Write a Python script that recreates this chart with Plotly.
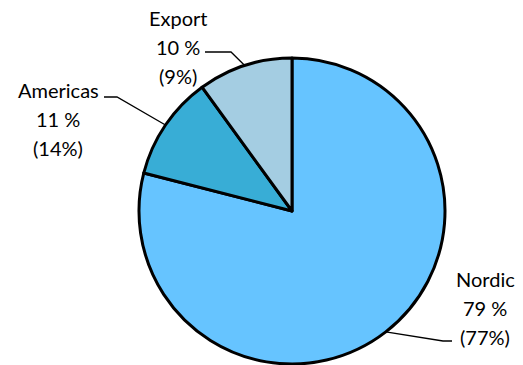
import math
import plotly.graph_objects as go

# Sales split by region (current year, previous year in brackets)
regions = ["Nordic", "Americas", "Export"]
shares = [79, 11, 10]
prev_shares = [77, 14, 9]
colors = ["#66C4FF", "#38ADD6", "#A4CDE2"]

W, H = 523, 365
cx, cy, r = 292, 211, 153  # pie centre and radius in pixels


def px(x):
    return x / W


def py(y):
    return 1 - y / H


fig = go.Figure(
    go.Pie(
        labels=regions,
        values=shares,
        sort=False,
        direction="clockwise",
        rotation=0,
        textinfo="none",
        hoverinfo="label+percent",
        marker=dict(colors=colors, line=dict(color="black", width=3)),
        domain=dict(x=[px(cx - r), px(cx + r)], y=[py(cy + r), py(cy - r)]),
        showlegend=False,
    )
)

# label block position (centre x, first-line y) and leader elbow per region
label_pos = {
    "Nordic": (485, 279, [(443, 341), (452, 341)]),
    "Americas": (58, 90, [(117, 97), (104, 97)]),
    "Export": (178, 18, [(231, 52), (205, 52)]),
}
line_gap = 29

shapes = []
annotations = []
total = sum(shares)
start = 0.0
for name, val, prev in zip(regions, shares, prev_shares):
    mid = start + val / total * 360 / 2
    start += val / total * 360
    ang = math.radians(mid)
    # point on the rim at the slice's mid-angle (clockwise from top)
    ex = cx + r * math.sin(ang)
    ey = cy - r * math.cos(ang)
    tx, ty, elbow = label_pos[name]
    pts = [(ex, ey)] + elbow
    path = "M " + " L ".join(f"{px(x)},{py(y)}" for x, y in pts)
    shapes.append(dict(type="path", path=path, xref="paper", yref="paper",
                       line=dict(color="black", width=1.3)))
    for i, t in enumerate([name, f"{val} %", f"({prev}%)"]):
        annotations.append(dict(
            text=t, x=px(tx), y=py(ty + i * line_gap), xref="paper", yref="paper",
            xanchor="center", yanchor="middle", showarrow=False,
            font=dict(family="Lato, Carlito, sans-serif", size=20, color="#000000"),
        ))

fig.update_layout(
    width=W, height=H,
    margin=dict(l=0, r=0, t=0, b=0),
    paper_bgcolor="white", plot_bgcolor="white",
    shapes=shapes, annotations=annotations,
)

fig.write_html("out.html")
